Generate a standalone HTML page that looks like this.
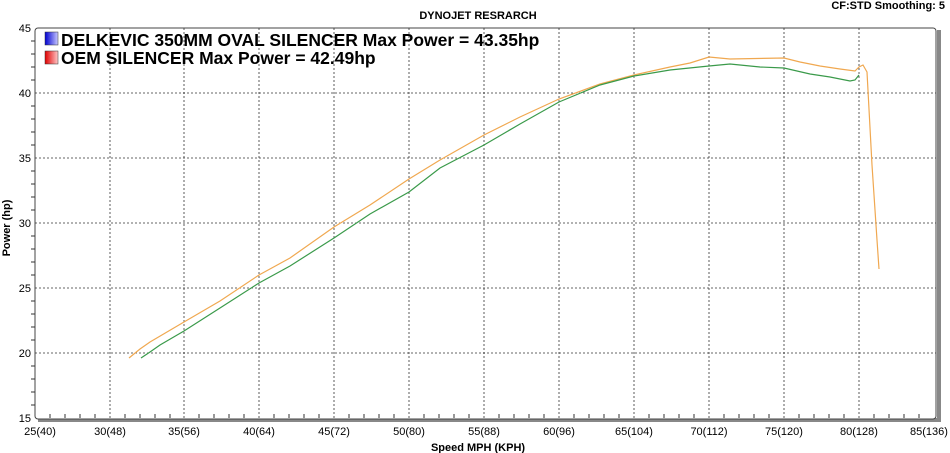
<!DOCTYPE html>
<html><head><style>body{margin:0;background:#fff;}svg{display:block;font-family:"Liberation Sans",Arial,sans-serif;}</style></head>
<body>
<svg width="950" height="453" viewBox="0 0 950 453">
<defs>
<linearGradient id="gb" x1="0" x2="1"><stop offset="0" stop-color="#0000d0"/><stop offset="1" stop-color="#c8c8ff"/></linearGradient>
<linearGradient id="gr" x1="0" x2="1"><stop offset="0" stop-color="#e00000"/><stop offset="1" stop-color="#ffc8c8"/></linearGradient>
</defs>
<rect x="0" y="0" width="950" height="453" fill="#fff"/>
<text x="478" y="19" font-size="11" font-weight="bold" text-anchor="middle">DYNOJET RESRARCH</text>
<text x="945" y="9" font-size="11" font-weight="bold" text-anchor="end">CF:STD Smoothing: 5</text>
<rect x="937" y="30" width="4" height="391" fill="#888"/>
<rect x="38" y="418" width="903" height="4" fill="#888"/>
<rect x="35" y="28" width="901" height="391" fill="#fff" stroke="#444" stroke-width="1" rx="3"/>
<g stroke="#333" stroke-width="0.8" stroke-dasharray="2,2">
<line x1="110" y1="28" x2="110" y2="418"/><line x1="184" y1="28" x2="184" y2="418"/>
<line x1="259" y1="28" x2="259" y2="418"/><line x1="334" y1="28" x2="334" y2="418"/>
<line x1="409" y1="28" x2="409" y2="418"/><line x1="484" y1="28" x2="484" y2="418"/>
<line x1="559" y1="28" x2="559" y2="418"/><line x1="634" y1="28" x2="634" y2="418"/>
<line x1="709" y1="28" x2="709" y2="418"/><line x1="784" y1="28" x2="784" y2="418"/>
<line x1="859" y1="28" x2="859" y2="418"/>
<line x1="35" y1="93" x2="936" y2="93"/><line x1="35" y1="158" x2="936" y2="158"/>
<line x1="35" y1="223" x2="936" y2="223"/><line x1="35" y1="288" x2="936" y2="288"/>
<line x1="35" y1="353" x2="936" y2="353"/>
</g>
<g font-size="11" text-anchor="end">
<text x="31" y="32">45</text><text x="31" y="97">40</text><text x="31" y="162">35</text>
<text x="31" y="227">30</text><text x="31" y="292">25</text><text x="31" y="357">20</text><text x="31" y="422">15</text>
</g>
<g font-size="11" text-anchor="middle">
<text x="40" y="435">25(40)</text><text x="110" y="435">30(48)</text><text x="184" y="435">35(56)</text>
<text x="259" y="435">40(64)</text><text x="334" y="435">45(72)</text><text x="409" y="435">50(80)</text>
<text x="484" y="435">55(88)</text><text x="559" y="435">60(96)</text><text x="634" y="435">65(104)</text>
<text x="709" y="435">70(112)</text><text x="784" y="435">75(120)</text><text x="859" y="435">80(128)</text>
<text x="929" y="435">85(136)</text>
</g>
<text x="478" y="451" font-size="11" font-weight="bold" text-anchor="middle">Speed MPH (KPH)</text>
<text x="10" y="228" font-size="11" font-weight="bold" text-anchor="middle" transform="rotate(-90 10 228)">Power (hp)</text>
<rect x="45" y="32" width="13" height="13" fill="url(#gb)" stroke="#333" stroke-width="0.5"/>
<rect x="45" y="51" width="13" height="13" fill="url(#gr)" stroke="#333" stroke-width="0.5"/>
<text x="61" y="46" font-size="17.5" font-weight="bold">DELKEVIC 350MM OVAL SILENCER  Max Power = 43.35hp</text>
<text x="61" y="64" font-size="17.5" font-weight="bold">OEM SILENCER Max Power = 42.49hp</text>
<polyline fill="none" stroke="#f0a850" stroke-width="1.2" points="129,358 140,349 150,342 184,322 220,301 259,275 290,258 334,227 370,205 409,179 440,160 484,135 520,117 559,99 600,84 634,75 670,67 690,63 709,57 730,59 784,58 800,62 820,66 840,69 855,71 859,67 863,65 867,72 872,165 877,240 879,269"/>
<polyline fill="none" stroke="#3a9a4a" stroke-width="1.2" points="141,358 150,352 160,345 184,331 220,308 259,283 290,266 334,238 370,214 409,192 440,168 484,145 520,124 559,102 600,85 634,76 670,70 709,66 730,64 760,67 784,68 810,74 830,77 850,81 855,80 859,75"/>
<g stroke="#333" stroke-width="1">
<path d="M31,41h4 M31,54h4 M31,67h4 M31,80h4 M31,106h4 M31,119h4 M31,132h4 M31,145h4 M31,171h4 M31,184h4 M31,197h4 M31,210h4 M31,236h4 M31,249h4 M31,262h4 M31,275h4 M31,301h4 M31,314h4 M31,327h4 M31,340h4 M31,366h4 M31,379h4 M31,392h4 M31,405h4"/>
<path d="M50,418v-4 M65,418v-4 M80,418v-4 M95,418v-4 M125,418v-4 M140,418v-4 M155,418v-4 M170,418v-4 M199,418v-4 M214,418v-4 M229,418v-4 M244,418v-4 M274,418v-4 M289,418v-4 M304,418v-4 M319,418v-4 M349,418v-4 M364,418v-4 M379,418v-4 M394,418v-4 M424,418v-4 M439,418v-4 M454,418v-4 M469,418v-4 M499,418v-4 M514,418v-4 M529,418v-4 M544,418v-4 M574,418v-4 M589,418v-4 M604,418v-4 M619,418v-4 M649,418v-4 M664,418v-4 M679,418v-4 M694,418v-4 M724,418v-4 M739,418v-4 M754,418v-4 M769,418v-4 M799,418v-4 M814,418v-4 M829,418v-4 M844,418v-4 M874,418v-4 M889,418v-4 M904,418v-4 M919,418v-4"/>
</g>
</svg>
</body></html>
